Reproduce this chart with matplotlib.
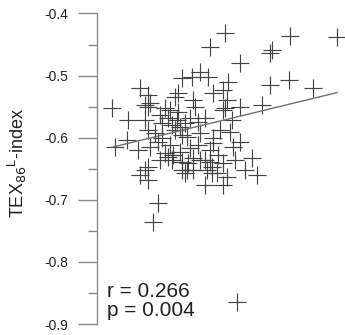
import numpy as np
import matplotlib
matplotlib.use("Agg")
import matplotlib.pyplot as plt
from matplotlib.ticker import MultipleLocator

plt.rcParams['font.family'] = ['Liberation Sans', 'DejaVu Sans']

# x has no visible axis in the original, so it is in arbitrary units (0-100)
x = [51.6, 77.8, 96.8, 70.6, 69.8, 45.6, 57.7, 38.3, 41.5, 44.8,
     52.8, 69.8, 77.4, 87.1, 66.5, 17.3, 20.6, 32.7, 6.0, 12.5,
     21.4, 38.7, 50.8, 52.4, 51.6, 57.7, 7.3, 12.1, 21.4, 29.4,
     17.3, 24.6, 22.6, 56.5, 64.5, 50.8, 52.4, 36.3, 44.4, 48.4,
     62.5, 54.8, 53.6, 46.8, 41.5, 50.8, 45.6, 38.7, 34.3, 57.7,
     16.5, 20.6, 28.6, 30.6, 34.3, 19.4, 30.2, 26.2, 20.6, 27.4,
     31.5, 34.3, 19.4, 32.3, 35.5, 39.5, 26.2, 31.5, 20.6, 23.4,
     34.3, 27.4, 30.2, 19.4, 36.7, 43.5, 35.5, 46.4, 20.6, 46.8,
     50.8, 49.6, 33.5, 36.3, 46.8, 41.5, 46.4, 38.7,
     25.4, 28.6, 32.7, 37.5, 40.7, 43.5, 24.6, 29.4, 37.5, 40.7,
     33.5, 45.6, 48.8, 25.4, 43.5, 55.6, 59.7, 54.4]
tex86 = [-0.432, -0.437, -0.438, -0.459, -0.464, -0.454, -0.480, -0.503, -0.494, -0.503,
         -0.511, -0.515, -0.507, -0.520, -0.548, -0.520, -0.531, -0.528, -0.552, -0.572,
         -0.544, -0.540, -0.523, -0.540, -0.552, -0.551, -0.615, -0.604, -0.615, -0.556,
         -0.660, -0.705, -0.736, -0.864, -0.660, -0.676, -0.663, -0.652, -0.652, -0.657,
         -0.633, -0.615, -0.591, -0.601, -0.593, -0.641, -0.639, -0.633, -0.639, -0.607,
         -0.620, -0.647, -0.631, -0.628, -0.652, -0.572, -0.580, -0.601, -0.551, -0.552,
         -0.535, -0.504, -0.548, -0.572, -0.577, -0.551, -0.577, -0.588, -0.588, -0.593,
         -0.596, -0.625, -0.636, -0.652, -0.641, -0.636, -0.657, -0.657, -0.668, -0.528,
         -0.556, -0.588, -0.583, -0.599, -0.609, -0.636, -0.647, -0.652,
         -0.564, -0.568, -0.559, -0.568, -0.575, -0.568, -0.607, -0.612, -0.617, -0.612,
         -0.623, -0.620, -0.628, -0.636, -0.676, -0.636, -0.652, -0.572]

# regression line
fit_intercept = -0.6213
fit_slope = 0.00097
r_val = 0.266
p_val = 0.004

fig = plt.figure(figsize=(3.45, 3.35), dpi=100)
ax = fig.add_axes([0.281, 0.0328, 0.719, 0.927])

ax.plot(x, tex86, '+', color='#444444', markersize=13, markeredgewidth=0.85,
        clip_on=False)

xf = np.array([min(x), max(x)])
ax.plot(xf, fit_intercept + fit_slope * xf, color='#707070', lw=1.0)

ax.set_xlim(0, 100)
ax.set_ylim(-0.9, -0.4)
for s in ['top', 'right', 'bottom']:
    ax.spines[s].set_visible(False)
ax.spines['left'].set_color('#8a8a8a')
ax.spines['left'].set_linewidth(1.0)
ax.set_xticks([])
ax.yaxis.set_major_locator(MultipleLocator(0.1))
ax.yaxis.set_minor_locator(MultipleLocator(0.05))
ax.tick_params(axis='y', which='major', length=13.7, width=1.0, color='#8a8a8a',
               pad=7, labelsize=10, labelcolor='#222222')
ax.tick_params(axis='y', which='minor', length=6.5, width=1.0, color='#8a8a8a')
ax.set_yticklabels(['%.1f' % v for v in ax.get_yticks()])

ax.set_ylabel('TEX$_{86}$$^{\\mathregular{L}}$-index', fontsize=13, color='#222222')
ax.yaxis.set_label_coords(-0.275, 0.52)

ax.text(0.04, 0.012, 'r = %.3f\np = %.3f' % (r_val, p_val), transform=ax.transAxes,
        fontsize=15, color='#222222', ha='left', va='bottom', linespacing=1.05)

fig.savefig('out.png', dpi=100)
